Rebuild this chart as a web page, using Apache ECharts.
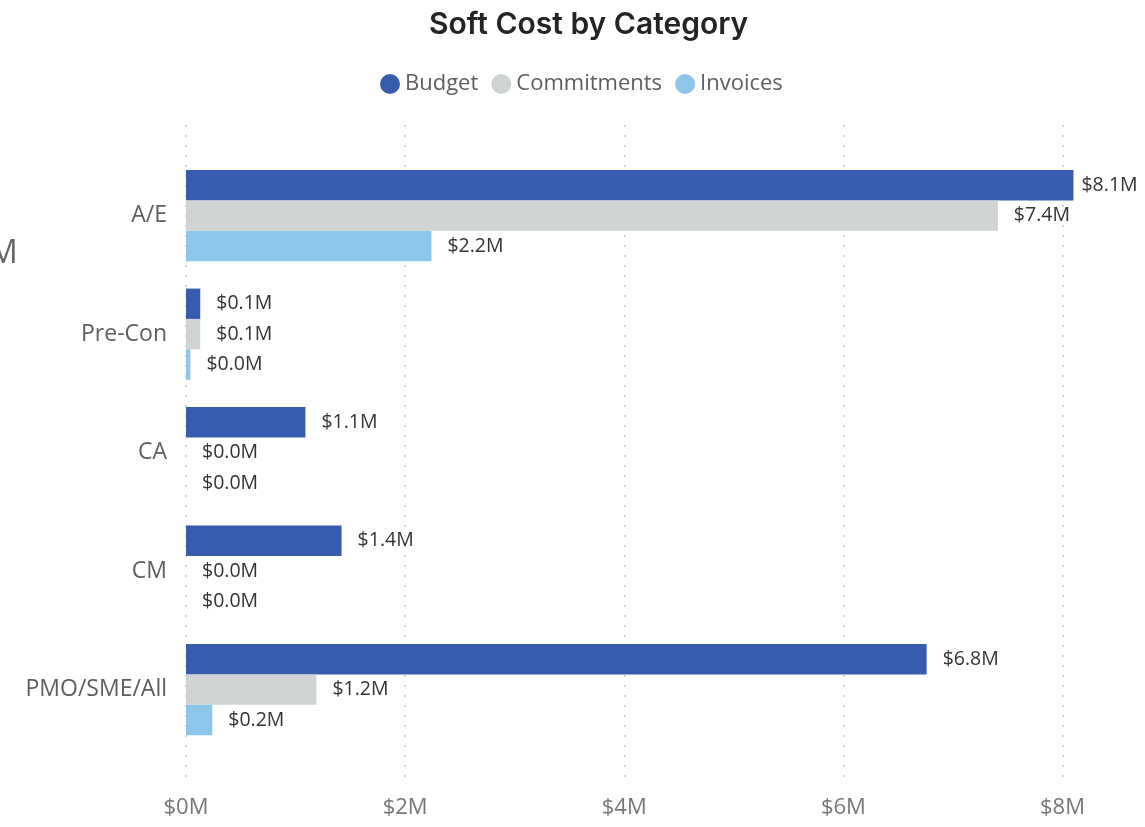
<!DOCTYPE html>
<html>
<head>
<meta charset="utf-8">
<script src="https://cdn.jsdelivr.net/npm/echarts@6/dist/echarts.min.js"></script>
<style>
  html, body { margin: 0; padding: 0; background: #ffffff; }
  #chart { width: 1145px; height: 827px; }
</style>
</head>
<body>
<div id="chart"></div>
<script>
// Soft cost categories (top to bottom) and amounts in $M
const categories = ['A/E', 'Pre-Con', 'CA', 'CM', 'PMO/SME/All'];
const budget = [8.1, 0.13, 1.09, 1.42, 6.76];
const commitments = [7.41, 0.13, 0, 0, 1.19];
const invoices = [2.24, 0.04, 0, 0, 0.24];
const xTicks = [0, 2, 4, 6, 8];

const COLORS = { budget: '#375CAE', commitments: '#D0D3D4', invoices: '#8DC6E8' };
const FONT = '"Open Sans", "Noto Sans", sans-serif';

const axisMin = xTicks[0];
const axisMax = xTicks[xTicks.length - 1];
const tickStep = xTicks[1] - xTicks[0];

const plotLeft = 186;
const plotRight = 82.5;

const fmt = v => '$' + v.toFixed(1) + 'M';

function barSeries(name, values, color) {
  return {
    name: name,
    type: 'bar',
    xAxisIndex: 0,
    yAxisIndex: 0,
    barWidth: 30.4,
    barGap: '0%',
    clip: false,
    itemStyle: { color: color },
    label: {
      show: true,
      position: 'right',
      distance: 16,
      fontFamily: FONT,
      fontSize: 19.5,
      color: '#333333',
      formatter: p => fmt(p.value)
    },
    data: values.map(v => ({ value: v })),
    z: 3
  };
}

const seriesList = [
  barSeries('Budget', budget, COLORS.budget),
  barSeries('Commitments', commitments, COLORS.commitments),
  barSeries('Invoices', invoices, COLORS.invoices)
];
// the longest label is pulled in so it stays inside the canvas
seriesList[0].data[0].label = { distance: 8 };

const chart = echarts.init(document.getElementById('chart'), null, { renderer: 'canvas' });

chart.setOption({
  animation: false,
  title: {
    text: 'Soft Cost by Category',
    left: 424,
    top: 5,
    textStyle: {
      fontFamily: 'Inter, sans-serif',
      fontWeight: 600,
      fontSize: 30,
      color: '#252423'
    }
  },
  legend: {
    left: 375,
    top: 68,
    icon: 'circle',
    itemWidth: 20,
    itemHeight: 20,
    itemGap: 13,
    textStyle: { fontFamily: FONT, fontSize: 22, color: '#605E5C' },
    data: ['Budget', 'Commitments', 'Invoices']
  },
  graphic: [{
    type: 'text',
    left: -11,
    top: 238,
    style: { text: 'M', fontFamily: FONT, fontSize: 32, fill: '#666666' }
  }],
  grid: [
    { left: plotLeft, right: plotRight, top: 156.4, height: 592.5 },
    { left: plotLeft, right: plotRight, top: 125, bottom: 42 }
  ],
  xAxis: [
    {
      type: 'value', gridIndex: 0, min: axisMin, max: axisMax, interval: tickStep,
      show: false
    },
    {
      type: 'value', gridIndex: 1, min: axisMin, max: axisMax, interval: tickStep,
      axisLine: { show: false },
      axisTick: { show: false },
      splitLine: { show: true, lineStyle: { color: '#C8C8C8', width: 1.5, type: [2, 8] } },
      axisLabel: {
        margin: 12,
        fontFamily: FONT,
        fontSize: 22,
        color: '#777777',
        formatter: v => '$' + v + 'M'
      }
    }
  ],
  yAxis: [
    {
      type: 'category', gridIndex: 0, inverse: true, data: categories,
      axisLine: { show: false },
      axisTick: { show: false },
      axisLabel: { margin: 19, fontFamily: FONT, fontSize: 23, color: '#605E5C' }
    },
    {
      type: 'value', gridIndex: 1, show: false, min: 0, max: 1
    }
  ],
  series: seriesList
});
</script>
</body>
</html>
